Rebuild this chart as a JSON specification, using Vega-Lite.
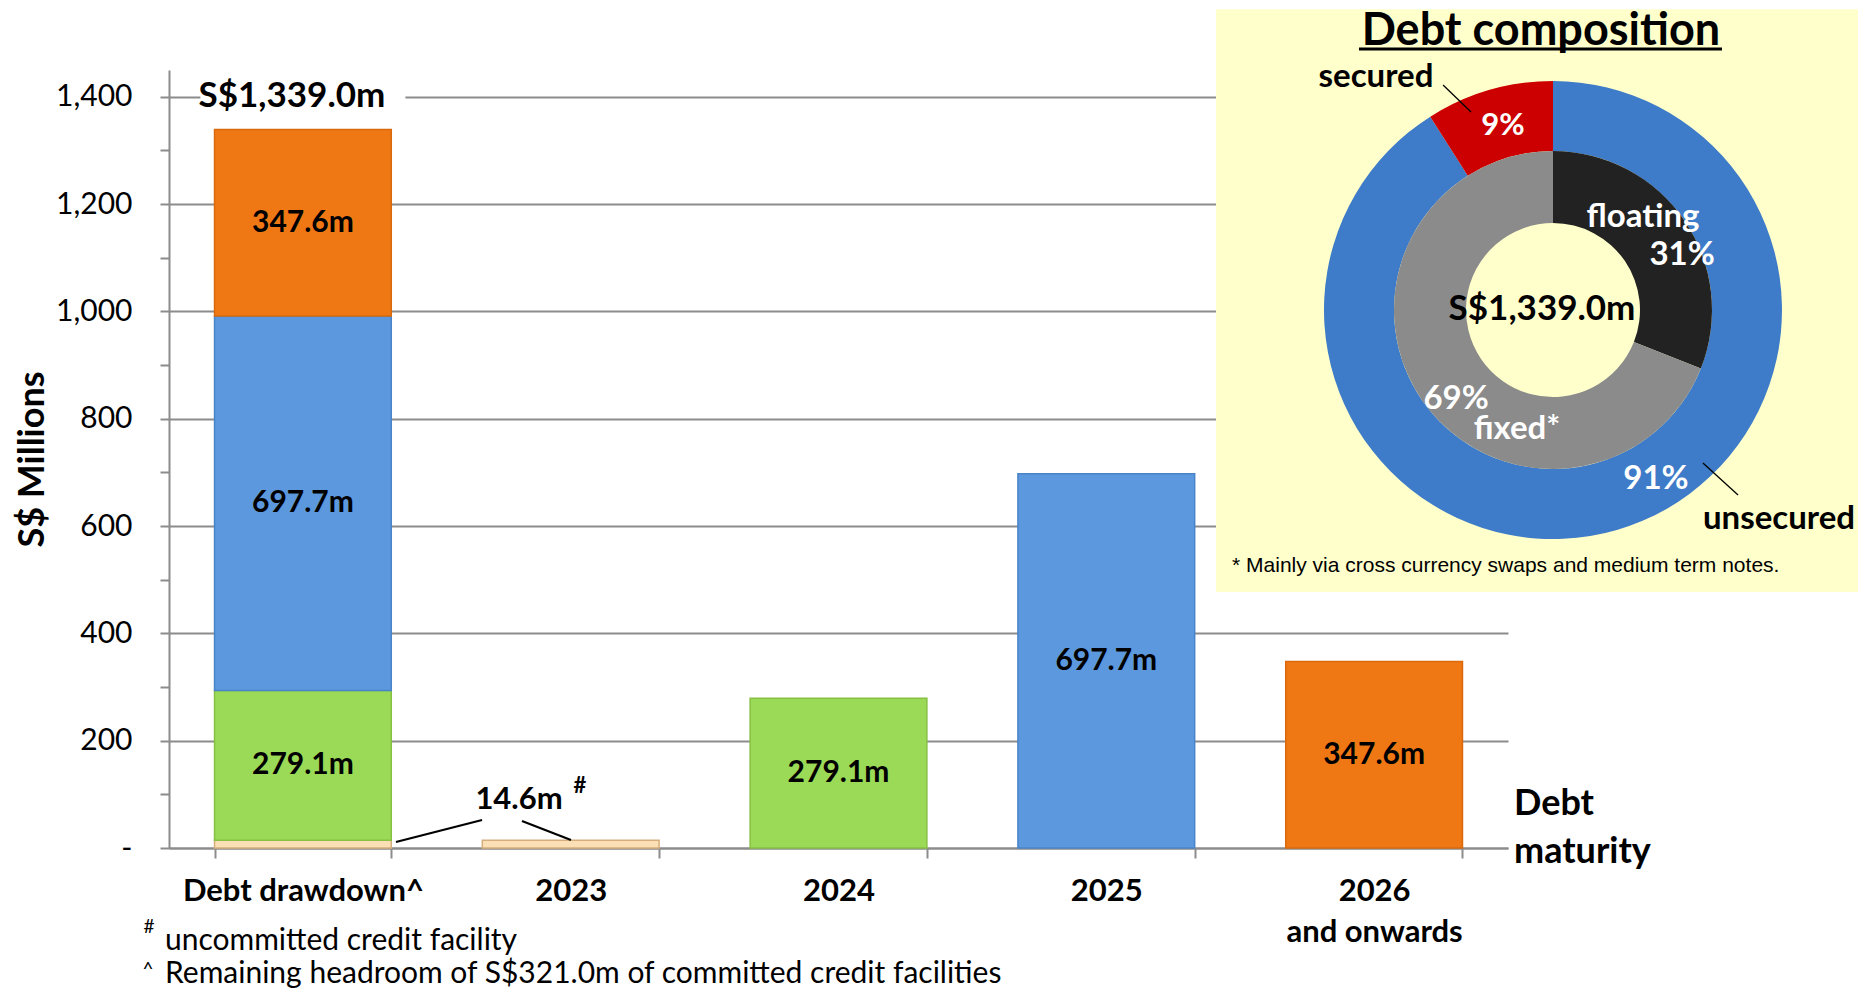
{
  "$schema": "https://vega.github.io/schema/vega-lite/v6.json",
  "width": 1339,
  "height": 778,
  "autosize": {"type": "none"},
  "padding": {"left": 169, "top": 70, "right": 350, "bottom": 143},
  "background": "#ffffff",
  "config": {"view": {"stroke": null}},
  "datasets": {
    "maturity": [
      {"cat": "Debt drawdown^", "tranche": "2023", "value": 14.6, "label": ""},
      {"cat": "Debt drawdown^", "tranche": "2024", "value": 279.1, "label": "279.1m"},
      {"cat": "Debt drawdown^", "tranche": "2025", "value": 697.7, "label": "697.7m"},
      {"cat": "Debt drawdown^", "tranche": "2026+", "value": 347.6, "label": "347.6m"},
      {"cat": "2023", "tranche": "2023", "value": 14.6, "label": ""},
      {"cat": "2024", "tranche": "2024", "value": 279.1, "label": "279.1m"},
      {"cat": "2025", "tranche": "2025", "value": 697.7, "label": "697.7m"},
      {"cat": "2026 and onwards", "tranche": "2026+", "value": 347.6, "label": "347.6m"}
    ],
    "total": [{"cat": "Debt drawdown^", "total": 1339.0, "label": "S$1,339.0m"}],
    "outer": [{"seg": "unsecured", "pct": 91}, {"seg": "secured", "pct": 9}],
    "inner": [{"seg": "floating", "pct": 31}, {"seg": "fixed", "pct": 69}],
    "note": [{"id": 1}]
  },
  "layer": [
    {
      "layer": [
        {
          "data": {"name": "maturity"},
          "mark": {"type": "bar", "strokeWidth": 1.5},
          "encoding": {
            "x": {
              "field": "cat", "type": "nominal",
              "sort": ["Debt drawdown^", "2023", "2024", "2025", "2026 and onwards"],
              "scale": {"paddingInner": 0.34, "paddingOuter": 0.17},
              "axis": {
                "title": null, "labelAngle": 0, "labelLimit": 0,
                "labelFont": "Lato", "labelFontSize": 31, "labelFontWeight": "bold", "labelColor": "#000000",
                "labelPadding": 18, "labelLineHeight": 41,
                "labelExpr": "datum.label == '2026 and onwards' ? ['2026', 'and onwards'] : datum.label",
                "domainColor": "#8c8c8c", "domainWidth": 2,
                "tickColor": "#8c8c8c", "tickWidth": 2, "tickSize": 10, "tickBand": "extent"
              }
            },
            "y": {
              "field": "value", "type": "quantitative", "stack": "zero",
              "scale": {"domain": [0, 1450], "nice": false},
              "axis": {
                "values": [0, 100, 200, 300, 400, 500, 600, 700, 800, 900, 1000, 1100, 1200, 1300, 1400],
                "labelExpr": "datum.value % 200 != 0 ? '' : (datum.value == 0 ? '-' : format(datum.value, ','))",
                "labelFont": "Lato", "labelFontSize": 30, "labelColor": "#000000", "labelPadding": 28,
                "grid": true, "gridColor": "#8c8c8c", "gridWidth": 2,
                "gridOpacity": {"condition": {"test": "datum.value % 200 != 0", "value": 0}, "value": 1},
                "domainColor": "#8c8c8c", "domainWidth": 2,
                "tickColor": "#8c8c8c", "tickWidth": 2, "tickSize": 9,
                "title": "S$ Millions", "titleFont": "Lato", "titleFontSize": 36, "titleFontWeight": "bold",
                "titleColor": "#000000", "titlePadding": 4
              }
            },
            "color": {
              "field": "tranche", "type": "nominal",
              "scale": {"domain": ["2023", "2024", "2025", "2026+"], "range": ["#FBE0B5", "#9BDA56", "#5C98DE", "#F07814"]},
              "legend": null
            },
            "stroke": {
              "field": "tranche", "type": "nominal",
              "scale": {"domain": ["2023", "2024", "2025", "2026+"], "range": ["#D6AE7E", "#86C144", "#4A84C8", "#D8690C"]},
              "legend": null
            },
            "order": {"field": "tranche"}
          }
        },
        {
          "data": {"name": "maturity"},
          "mark": {"type": "text", "font": "Lato", "fontWeight": "bold", "fontSize": 30, "color": "#000000", "baseline": "middle"},
          "encoding": {
            "x": {"field": "cat", "type": "nominal", "sort": ["Debt drawdown^", "2023", "2024", "2025", "2026 and onwards"]},
            "y": {"field": "value", "type": "quantitative", "stack": "zero", "bandPosition": 0.5},
            "detail": {"field": "tranche"},
            "order": {"field": "tranche"},
            "text": {"field": "label"}
          }
        },
        {
          "data": {"name": "total"},
          "mark": {"type": "bar", "color": "#ffffff", "width": {"band": 1.16}},
          "encoding": {
            "x": {"field": "cat", "type": "nominal", "sort": ["Debt drawdown^", "2023", "2024", "2025", "2026 and onwards"]},
            "y": {"datum": 1372, "type": "quantitative"},
            "y2": {"datum": 1432}
          }
        },
        {
          "data": {"name": "total"},
          "mark": {"type": "text", "font": "Lato", "fontWeight": "bold", "fontSize": 35, "color": "#000000", "baseline": "alphabetic", "dy": -23, "dx": -11},
          "encoding": {
            "x": {"field": "cat", "type": "nominal", "sort": ["Debt drawdown^", "2023", "2024", "2025", "2026 and onwards"]},
            "y": {"field": "total", "type": "quantitative"},
            "text": {"field": "label"}
          }
        }
      ]
    },
    {
      "data": {"name": "note"},
      "layer": [
        {
          "mark": {"type": "rect", "fill": "#FFFFCC"},
          "encoding": {
            "x": {"datum": 78.19, "type": "quantitative", "scale": {"domain": [0, 100], "nice": false, "zero": false}, "axis": null},
            "x2": {"datum": 126.3},
            "y": {"datum": 107.8, "type": "quantitative", "scale": {"domain": [0, 100], "nice": false, "zero": false}, "axis": null},
            "y2": {"datum": 32.9}
          }
        },
        {
          "data": {"name": "outer"},
          "mark": {"type": "arc", "radius": 229, "radius2": 159},
          "encoding": {
            "x": {"datum": 103.36, "type": "quantitative", "scale": {"domain": [0, 100], "nice": false, "zero": false}, "axis": null},
            "y": {"datum": 69.15, "type": "quantitative", "scale": {"domain": [0, 100], "nice": false, "zero": false}, "axis": null},
            "theta": {"field": "pct", "type": "quantitative", "stack": true},
            "order": {"field": "pct", "sort": "descending"},
            "color": {
              "field": "seg", "type": "nominal",
              "scale": {"domain": ["unsecured", "secured", "floating", "fixed"], "range": ["#3E7BC8", "#CC0000", "#222222", "#8B8B8B"]},
              "legend": null
            }
          }
        },
        {
          "data": {"name": "inner"},
          "mark": {"type": "arc", "radius": 159, "radius2": 87},
          "encoding": {
            "x": {"datum": 103.36, "type": "quantitative", "scale": {"domain": [0, 100], "nice": false, "zero": false}, "axis": null},
            "y": {"datum": 69.15, "type": "quantitative", "scale": {"domain": [0, 100], "nice": false, "zero": false}, "axis": null},
            "theta": {"field": "pct", "type": "quantitative", "stack": true},
            "order": {"field": "pct", "sort": "ascending"},
            "color": {
              "field": "seg", "type": "nominal",
              "scale": {"domain": ["unsecured", "secured", "floating", "fixed"], "range": ["#3E7BC8", "#CC0000", "#222222", "#8B8B8B"]},
              "legend": null
            }
          }
        },
        {
          "mark": {"type": "text", "font": "Lato", "fontWeight": "bold", "fontSize": 45, "color": "#000000", "align": "center", "baseline": "middle"},
          "encoding": {
            "x": {"datum": 102.46, "type": "quantitative", "scale": {"domain": [0, 100], "nice": false, "zero": false}, "axis": null},
            "y": {"datum": 105.01, "type": "quantitative", "scale": {"domain": [0, 100], "nice": false, "zero": false}, "axis": null},
            "text": {"value": "Debt composition"}
          }
        },
        {
          "mark": {"type": "rule", "color": "#000000", "strokeWidth": 3},
          "encoding": {
            "x": {"datum": 88.87, "type": "quantitative", "scale": {"domain": [0, 100], "nice": false, "zero": false}, "axis": null},
            "x2": {"datum": 115.98},
            "y": {"datum": 102.7, "type": "quantitative", "scale": {"domain": [0, 100], "nice": false, "zero": false}, "axis": null}
          }
        },
        {
          "mark": {"type": "rule", "color": "#000000", "strokeWidth": 1.3},
          "encoding": {
            "x": {"datum": 95.15, "type": "quantitative", "scale": {"domain": [0, 100], "nice": false, "zero": false}, "axis": null},
            "x2": {"datum": 97.24},
            "y": {"datum": 98.07, "type": "quantitative", "scale": {"domain": [0, 100], "nice": false, "zero": false}, "axis": null},
            "y2": {"datum": 94.6}
          }
        },
        {
          "mark": {"type": "rule", "color": "#000000", "strokeWidth": 1.3},
          "encoding": {
            "x": {"datum": 114.56, "type": "quantitative", "scale": {"domain": [0, 100], "nice": false, "zero": false}, "axis": null},
            "x2": {"datum": 117.18},
            "y": {"datum": 49.49, "type": "quantitative", "scale": {"domain": [0, 100], "nice": false, "zero": false}, "axis": null},
            "y2": {"datum": 45.37}
          }
        },
        {
          "mark": {"type": "text", "font": "Lato", "fontWeight": "bold", "fontSize": 33, "color": "#000000", "align": "center", "baseline": "middle"},
          "encoding": {
            "x": {"datum": 90.14, "type": "quantitative", "scale": {"domain": [0, 100], "nice": false, "zero": false}, "axis": null},
            "y": {"datum": 99.1, "type": "quantitative", "scale": {"domain": [0, 100], "nice": false, "zero": false}, "axis": null},
            "text": {"value": "secured"}
          }
        },
        {
          "mark": {"type": "text", "font": "Lato", "fontWeight": "bold", "fontSize": 31, "color": "#ffffff", "align": "center", "baseline": "middle"},
          "encoding": {
            "x": {"datum": 99.63, "type": "quantitative", "scale": {"domain": [0, 100], "nice": false, "zero": false}, "axis": null},
            "y": {"datum": 92.8, "type": "quantitative", "scale": {"domain": [0, 100], "nice": false, "zero": false}, "axis": null},
            "text": {"value": "9%"}
          }
        },
        {
          "mark": {"type": "text", "font": "Lato", "fontWeight": "bold", "fontSize": 33, "color": "#ffffff", "align": "center", "baseline": "middle"},
          "encoding": {
            "x": {"datum": 110.08, "type": "quantitative", "scale": {"domain": [0, 100], "nice": false, "zero": false}, "axis": null},
            "y": {"datum": 81.11, "type": "quantitative", "scale": {"domain": [0, 100], "nice": false, "zero": false}, "axis": null},
            "text": {"value": "floating"}
          }
        },
        {
          "mark": {"type": "text", "font": "Lato", "fontWeight": "bold", "fontSize": 33, "color": "#ffffff", "align": "center", "baseline": "middle"},
          "encoding": {
            "x": {"datum": 113.0, "type": "quantitative", "scale": {"domain": [0, 100], "nice": false, "zero": false}, "axis": null},
            "y": {"datum": 76.22, "type": "quantitative", "scale": {"domain": [0, 100], "nice": false, "zero": false}, "axis": null},
            "text": {"value": "31%"}
          }
        },
        {
          "mark": {"type": "text", "font": "Lato", "fontWeight": "bold", "fontSize": 35, "color": "#000000", "align": "center", "baseline": "middle"},
          "encoding": {
            "x": {"datum": 102.54, "type": "quantitative", "scale": {"domain": [0, 100], "nice": false, "zero": false}, "axis": null},
            "y": {"datum": 69.28, "type": "quantitative", "scale": {"domain": [0, 100], "nice": false, "zero": false}, "axis": null},
            "text": {"value": "S$1,339.0m"}
          }
        },
        {
          "mark": {"type": "text", "font": "Lato", "fontWeight": "bold", "fontSize": 33, "color": "#ffffff", "align": "center", "baseline": "middle"},
          "encoding": {
            "x": {"datum": 96.12, "type": "quantitative", "scale": {"domain": [0, 100], "nice": false, "zero": false}, "axis": null},
            "y": {"datum": 57.71, "type": "quantitative", "scale": {"domain": [0, 100], "nice": false, "zero": false}, "axis": null},
            "text": {"value": "69%"}
          }
        },
        {
          "mark": {"type": "text", "font": "Lato", "fontWeight": "bold", "fontSize": 33, "color": "#ffffff", "align": "center", "baseline": "middle"},
          "encoding": {
            "x": {"datum": 100.67, "type": "quantitative", "scale": {"domain": [0, 100], "nice": false, "zero": false}, "axis": null},
            "y": {"datum": 53.86, "type": "quantitative", "scale": {"domain": [0, 100], "nice": false, "zero": false}, "axis": null},
            "text": {"value": "fixed*"}
          }
        },
        {
          "mark": {"type": "text", "font": "Lato", "fontWeight": "bold", "fontSize": 33, "color": "#ffffff", "align": "center", "baseline": "middle"},
          "encoding": {
            "x": {"datum": 111.05, "type": "quantitative", "scale": {"domain": [0, 100], "nice": false, "zero": false}, "axis": null},
            "y": {"datum": 47.43, "type": "quantitative", "scale": {"domain": [0, 100], "nice": false, "zero": false}, "axis": null},
            "text": {"value": "91%"}
          }
        },
        {
          "mark": {"type": "text", "font": "Lato", "fontWeight": "bold", "fontSize": 33, "color": "#000000", "align": "center", "baseline": "middle"},
          "encoding": {
            "x": {"datum": 120.24, "type": "quantitative", "scale": {"domain": [0, 100], "nice": false, "zero": false}, "axis": null},
            "y": {"datum": 42.29, "type": "quantitative", "scale": {"domain": [0, 100], "nice": false, "zero": false}, "axis": null},
            "text": {"value": "unsecured"}
          }
        },
        {
          "mark": {"type": "text", "font": "Liberation Sans", "fontSize": 21, "color": "#000000", "align": "left", "baseline": "middle"},
          "encoding": {
            "x": {"datum": 79.39, "type": "quantitative", "scale": {"domain": [0, 100], "nice": false, "zero": false}, "axis": null},
            "y": {"datum": 36.25, "type": "quantitative", "scale": {"domain": [0, 100], "nice": false, "zero": false}, "axis": null},
            "text": {"value": "* Mainly via cross currency swaps and medium term notes."}
          }
        },
        {
          "mark": {"type": "text", "font": "Lato", "fontWeight": "bold", "fontSize": 31, "color": "#000000", "align": "center", "baseline": "alphabetic"},
          "encoding": {
            "x": {"datum": 26.14, "type": "quantitative", "scale": {"domain": [0, 100], "nice": false, "zero": false}, "axis": null},
            "y": {"datum": 5.01, "type": "quantitative", "scale": {"domain": [0, 100], "nice": false, "zero": false}, "axis": null},
            "text": {"value": "14.6m"}
          }
        },
        {
          "mark": {"type": "text", "font": "Lato", "fontWeight": "bold", "fontSize": 22, "color": "#000000", "align": "center", "baseline": "alphabetic"},
          "encoding": {
            "x": {"datum": 30.69, "type": "quantitative", "scale": {"domain": [0, 100], "nice": false, "zero": false}, "axis": null},
            "y": {"datum": 7.07, "type": "quantitative", "scale": {"domain": [0, 100], "nice": false, "zero": false}, "axis": null},
            "text": {"value": "#"}
          }
        },
        {
          "mark": {"type": "rule", "color": "#000000", "strokeWidth": 2.2},
          "encoding": {
            "x": {"datum": 16.95, "type": "quantitative", "scale": {"domain": [0, 100], "nice": false, "zero": false}, "axis": null},
            "x2": {"datum": 23.38},
            "y": {"datum": 0.77, "type": "quantitative", "scale": {"domain": [0, 100], "nice": false, "zero": false}, "axis": null},
            "y2": {"datum": 3.6}
          }
        },
        {
          "mark": {"type": "rule", "color": "#000000", "strokeWidth": 2.2},
          "encoding": {
            "x": {"datum": 26.36, "type": "quantitative", "scale": {"domain": [0, 100], "nice": false, "zero": false}, "axis": null},
            "x2": {"datum": 30.02},
            "y": {"datum": 3.47, "type": "quantitative", "scale": {"domain": [0, 100], "nice": false, "zero": false}, "axis": null},
            "y2": {"datum": 1.03}
          }
        },
        {
          "mark": {"type": "text", "font": "Lato", "fontWeight": "bold", "fontSize": 36, "color": "#000000", "align": "left", "baseline": "alphabetic"},
          "encoding": {
            "x": {"datum": 100.45, "type": "quantitative", "scale": {"domain": [0, 100], "nice": false, "zero": false}, "axis": null},
            "y": {"datum": 4.24, "type": "quantitative", "scale": {"domain": [0, 100], "nice": false, "zero": false}, "axis": null},
            "text": {"value": "Debt"}
          }
        },
        {
          "mark": {"type": "text", "font": "Lato", "fontWeight": "bold", "fontSize": 36, "color": "#000000", "align": "left", "baseline": "alphabetic"},
          "encoding": {
            "x": {"datum": 100.45, "type": "quantitative", "scale": {"domain": [0, 100], "nice": false, "zero": false}, "axis": null},
            "y": {"datum": -1.93, "type": "quantitative", "scale": {"domain": [0, 100], "nice": false, "zero": false}, "axis": null},
            "text": {"value": "maturity"}
          }
        },
        {
          "mark": {"type": "text", "font": "Lato", "fontSize": 19, "color": "#000000", "align": "center", "baseline": "alphabetic"},
          "encoding": {
            "x": {"datum": -1.49, "type": "quantitative", "scale": {"domain": [0, 100], "nice": false, "zero": false}, "axis": null},
            "y": {"datum": -10.93, "type": "quantitative", "scale": {"domain": [0, 100], "nice": false, "zero": false}, "axis": null},
            "text": {"value": "#"}
          }
        },
        {
          "mark": {"type": "text", "font": "Lato", "fontSize": 30, "color": "#000000", "align": "left", "baseline": "alphabetic"},
          "encoding": {
            "x": {"datum": -0.3, "type": "quantitative", "scale": {"domain": [0, 100], "nice": false, "zero": false}, "axis": null},
            "y": {"datum": -13.11, "type": "quantitative", "scale": {"domain": [0, 100], "nice": false, "zero": false}, "axis": null},
            "text": {"value": "uncommitted credit facility"}
          }
        },
        {
          "mark": {"type": "text", "font": "Lato", "fontSize": 19, "color": "#000000", "align": "center", "baseline": "alphabetic"},
          "encoding": {
            "x": {"datum": -1.57, "type": "quantitative", "scale": {"domain": [0, 100], "nice": false, "zero": false}, "axis": null},
            "y": {"datum": -16.5, "type": "quantitative", "scale": {"domain": [0, 100], "nice": false, "zero": false}, "axis": null},
            "text": {"value": "^"}
          }
        },
        {
          "mark": {"type": "text", "font": "Lato", "fontSize": 30, "color": "#000000", "align": "left", "baseline": "alphabetic"},
          "encoding": {
            "x": {"datum": -0.3, "type": "quantitative", "scale": {"domain": [0, 100], "nice": false, "zero": false}, "axis": null},
            "y": {"datum": -17.4, "type": "quantitative", "scale": {"domain": [0, 100], "nice": false, "zero": false}, "axis": null},
            "text": {"value": "Remaining headroom of S$321.0m of committed credit facilities"}
          }
        }
      ]
    }
  ],
  "resolve": {"scale": {"x": "independent", "y": "independent", "color": "independent"}}
}
